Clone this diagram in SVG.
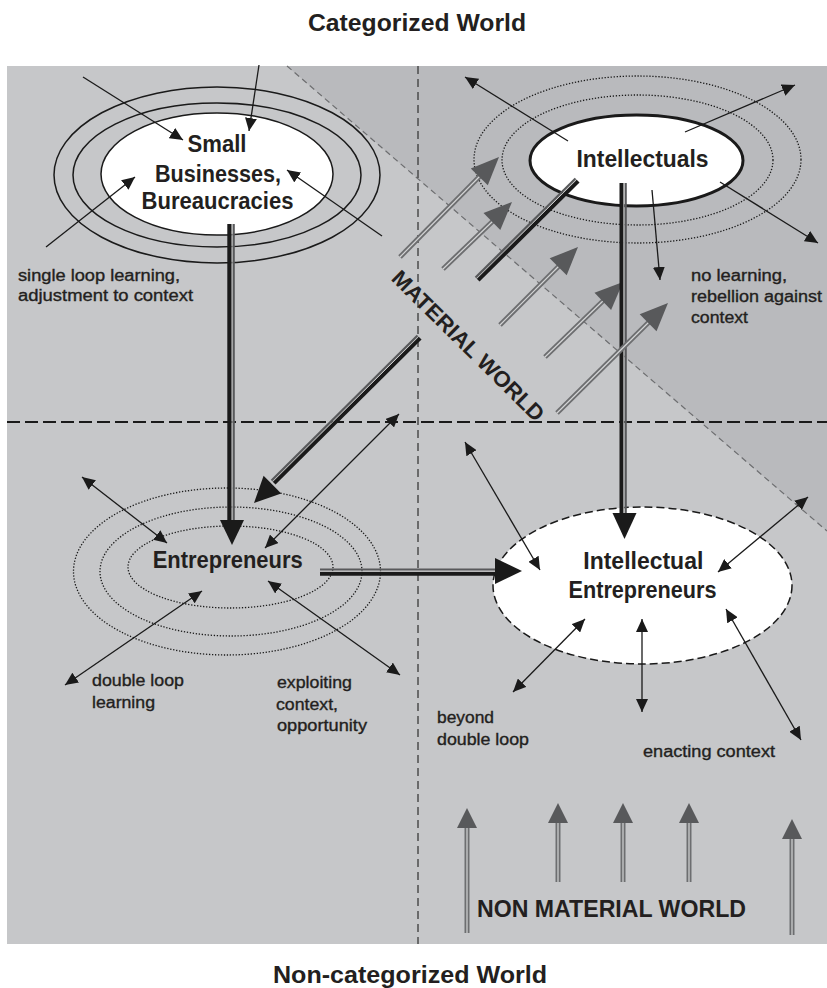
<svg xmlns="http://www.w3.org/2000/svg" width="827" height="988" viewBox="0 0 827 988">
<defs>
<style>
.t{font-family:"Liberation Sans",Arial,sans-serif;fill:#231f20}
.title{font-size:24px;font-weight:bold}
.node{font-size:23px;font-weight:bold}
.lbl{font-size:16px;stroke:#231f20;stroke-width:0.35}
.thin{stroke:#1a1a1a;stroke-width:1.3;fill:none}
.ring{fill:none;stroke:#1a1a1a;stroke-width:1.5}
.dot{fill:none;stroke:#1a1a1a;stroke-width:1.3;stroke-dasharray:1.3 1.7}
.blk{stroke:#1a1a1a;stroke-width:4.4;fill:none}
.gry{stroke:#58595b;stroke-width:2.2;fill:none}
.gap{stroke:#e6e6e6;stroke-width:0.9;fill:none}
.head{fill:#1a1a1a}
.gshaft{stroke:#6d6e70;stroke-width:5;fill:none}
.glight{stroke:#d4d5d6;stroke-width:1.2;fill:none}
.ghead{fill:#58595b}
</style>
<marker id="ah" viewBox="0 0 13 12" refX="13" refY="6" markerWidth="13" markerHeight="12" markerUnits="userSpaceOnUse" orient="auto-start-reverse">
<path d="M0,0 L13,6 L0,12 z" fill="#1a1a1a"/>
</marker>
</defs>

<!-- titles -->
<text class="t title" x="417" y="31" text-anchor="middle" textLength="218" lengthAdjust="spacingAndGlyphs">Categorized World</text>
<text class="t title" x="410" y="983" text-anchor="middle" textLength="274" lengthAdjust="spacingAndGlyphs">Non-categorized World</text>

<!-- background -->
<g id="background">
<rect x="7" y="66" width="820" height="878" fill="#c6c7c9"/>
<polygon points="287,66 827,66 827,531" fill="#b9babd"/>
<line x1="287" y1="66" x2="827" y2="531" stroke="#6d6e70" stroke-width="1.2" stroke-dasharray="6 4"/>
<line x1="418" y1="66" x2="418" y2="944" stroke="#444" stroke-width="1.4" stroke-dasharray="8 5"/>
<line x1="7" y1="422" x2="827" y2="422" stroke="#1a1a1a" stroke-width="2.2" stroke-dasharray="13 5"/>
</g>

<!-- nodes -->
<g id="small-businesses">
<ellipse class="ring" cx="217" cy="175" rx="163" ry="88"/>
<ellipse class="ring" cx="217" cy="175" rx="144" ry="72"/>
<ellipse cx="217" cy="174" rx="116" ry="61" fill="#fff" stroke="#1a1a1a" stroke-width="1.5"/>
<text class="t node" x="217" y="152" text-anchor="middle" textLength="59" lengthAdjust="spacingAndGlyphs">Small</text>
<text class="t node" x="218" y="182" text-anchor="middle" textLength="126" lengthAdjust="spacingAndGlyphs">Businesses,</text>
<text class="t node" x="217.5" y="209" text-anchor="middle" textLength="152" lengthAdjust="spacingAndGlyphs">Bureaucracies</text>
</g>

<g id="intellectuals">
<ellipse class="dot" cx="637.5" cy="159.5" rx="163.5" ry="83.5"/>
<ellipse class="dot" cx="637.5" cy="160" rx="135.5" ry="65"/>
<ellipse cx="636.5" cy="160.5" rx="106.5" ry="45.5" fill="#fff" stroke="#1a1a1a" stroke-width="3"/>
<text class="t node" x="642.5" y="167" text-anchor="middle" textLength="132" lengthAdjust="spacingAndGlyphs">Intellectuals</text>
</g>

<g id="entrepreneurs">
<ellipse class="dot" cx="227" cy="571.5" rx="153.5" ry="83.5"/>
<ellipse class="dot" cx="231" cy="571.5" rx="131" ry="64.5"/>
<ellipse class="dot" cx="230.5" cy="567" rx="102.5" ry="41"/>
<text class="t node" x="227.7" y="568" text-anchor="middle" textLength="150" lengthAdjust="spacingAndGlyphs">Entrepreneurs</text>
</g>

<g id="intellectual-entrepreneurs">
<ellipse cx="642.5" cy="585.5" rx="149.5" ry="78.5" fill="#fff" stroke="#1a1a1a" stroke-width="1.5" stroke-dasharray="8 4"/>
<text class="t node" x="643.3" y="569" text-anchor="middle" textLength="120" lengthAdjust="spacingAndGlyphs">Intellectual</text>
<text class="t node" x="642.5" y="598" text-anchor="middle" textLength="148" lengthAdjust="spacingAndGlyphs">Entrepreneurs</text>
</g>

<!-- labels -->
<g id="labels">
<text class="t lbl" x="18" y="281" textLength="162" lengthAdjust="spacingAndGlyphs">single loop learning,</text>
<text class="t lbl" x="18" y="301" textLength="175" lengthAdjust="spacingAndGlyphs">adjustment to context</text>
<text class="t lbl" x="691" y="281" textLength="96" lengthAdjust="spacingAndGlyphs">no learning,</text>
<text class="t lbl" x="691" y="302" textLength="131" lengthAdjust="spacingAndGlyphs">rebellion against</text>
<text class="t lbl" x="691" y="323" textLength="57" lengthAdjust="spacingAndGlyphs">context</text>
<text class="t lbl" x="92" y="686" textLength="92" lengthAdjust="spacingAndGlyphs">double loop</text>
<text class="t lbl" x="92" y="708" textLength="63" lengthAdjust="spacingAndGlyphs">learning</text>
<text class="t lbl" x="277" y="688" textLength="75" lengthAdjust="spacingAndGlyphs">exploiting</text>
<text class="t lbl" x="276" y="710" textLength="62" lengthAdjust="spacingAndGlyphs">context,</text>
<text class="t lbl" x="277" y="731" textLength="90" lengthAdjust="spacingAndGlyphs">opportunity</text>
<text class="t lbl" x="437" y="723" textLength="57" lengthAdjust="spacingAndGlyphs">beyond</text>
<text class="t lbl" x="437" y="745" textLength="92" lengthAdjust="spacingAndGlyphs">double loop</text>
<text class="t lbl" x="643" y="757" textLength="132" lengthAdjust="spacingAndGlyphs">enacting context</text>
</g>

<!-- connectors -->
<g id="connectors">
<!-- thin arrows: small businesses -->
<line class="thin" x1="83" y1="77" x2="183" y2="140" marker-end="url(#ah)"/>
<line class="thin" x1="259" y1="65" x2="249" y2="131" marker-end="url(#ah)"/>
<line class="thin" x1="46" y1="247" x2="135" y2="177" marker-end="url(#ah)"/>
<line class="thin" x1="382" y1="236" x2="287" y2="170" marker-end="url(#ah)"/>
<!-- intellectuals -->
<line class="thin" x1="568" y1="141" x2="465" y2="77" marker-end="url(#ah)"/>
<line class="thin" x1="685" y1="132" x2="795" y2="85" marker-end="url(#ah)"/>
<line class="thin" x1="720" y1="182" x2="818" y2="243" marker-end="url(#ah)"/>
<line class="thin" x1="652" y1="190" x2="660" y2="280" marker-end="url(#ah)"/>
<!-- entrepreneurs -->
<line class="thin" x1="82" y1="477" x2="167" y2="543" marker-start="url(#ah)" marker-end="url(#ah)"/>
<line class="thin" x1="65" y1="685" x2="202" y2="591" marker-start="url(#ah)" marker-end="url(#ah)"/>
<line class="thin" x1="268" y1="581" x2="400" y2="675" marker-start="url(#ah)" marker-end="url(#ah)"/>
<line class="thin" x1="265" y1="548" x2="399" y2="414" marker-start="url(#ah)" marker-end="url(#ah)"/>
<!-- intellectual entrepreneurs -->
<line class="thin" x1="465" y1="442" x2="540" y2="570" marker-start="url(#ah)" marker-end="url(#ah)"/>
<line class="thin" x1="808" y1="497" x2="718" y2="572" marker-start="url(#ah)" marker-end="url(#ah)"/>
<line class="thin" x1="513" y1="692" x2="585" y2="619" marker-start="url(#ah)" marker-end="url(#ah)"/>
<line class="thin" x1="642" y1="619" x2="642" y2="712" marker-start="url(#ah)" marker-end="url(#ah)"/>
<line class="thin" x1="726" y1="609" x2="801" y2="740" marker-start="url(#ah)" marker-end="url(#ah)"/>

<!-- material world gray arrows -->
<g id="material-arrows">
<line class="gshaft" x1="400" y1="257" x2="481" y2="175"/>
<line class="glight" x1="400" y1="257" x2="481" y2="175"/>
<polygon class="ghead" points="499,157 487.8,185.3 470.8,168.5"/>
<line class="gshaft" x1="443" y1="269" x2="494" y2="220"/>
<line class="glight" x1="443" y1="269" x2="494" y2="220"/>
<polygon class="ghead" points="512,202 500.3,230.1 483.5,212.9"/>
<line class="gshaft" x1="500" y1="325" x2="560" y2="265"/>
<line class="glight" x1="500" y1="325" x2="560" y2="265"/>
<polygon class="ghead" points="578,247 566.7,275.3 549.7,258.3"/>
<line class="gshaft" x1="545" y1="357" x2="605" y2="299"/>
<line class="glight" x1="545" y1="357" x2="605" y2="299"/>
<polygon class="ghead" points="623,282 611.1,310.1 594.5,292.7"/>
</g>

<!-- Small Businesses -> Entrepreneurs -->
<g id="edge-sb-ent">
<line class="blk" x1="229.5" y1="224" x2="229.5" y2="522"/>
<line class="gap" x1="232.2" y1="224" x2="232.2" y2="522"/>
<line class="gry" x1="233.7" y1="224" x2="233.7" y2="522"/>
<polygon class="head" points="220,520 244,520 232,545"/>
</g>

<!-- Intellectuals -> Intellectual Entrepreneurs -->
<g id="edge-int-ie">
<line class="blk" x1="621.7" y1="183" x2="621.7" y2="515"/>
<line class="gap" x1="623.9" y1="183" x2="623.9" y2="515"/>
<line class="gry" x1="625.7" y1="183" x2="625.7" y2="515"/>
<polygon class="head" points="612.5,513 636.5,513 624.5,539"/>
</g>

<!-- Entrepreneurs -> Intellectual Entrepreneurs -->
<g id="edge-ent-ie">
<line class="blk" x1="320" y1="573.6" x2="497" y2="573.6"/>
<line class="gap" x1="320" y1="571.2" x2="497" y2="571.2"/>
<line class="gry" x1="320" y1="569.5" x2="497" y2="569.5"/>
<polygon class="head" points="495,558 495,584 522,571"/>
</g>

<!-- Intellectuals -> Entrepreneurs (interrupted by label) -->
<g id="edge-int-ent">
<line class="blk" x1="578" y1="181" x2="478" y2="280"/>
<line class="gap" x1="576.6" y1="179.6" x2="476.6" y2="278.6"/>
<line class="gry" x1="575.5" y1="178.5" x2="475.5" y2="277.5"/>
<line class="blk" x1="420" y1="338" x2="274" y2="483"/>
<line class="gap" x1="418.6" y1="336.6" x2="272.6" y2="481.6"/>
<line class="gry" x1="417.5" y1="335.5" x2="271.5" y2="480.5"/>
<polygon class="head" points="254,503 263.6,475.8 281.2,493.6"/>
</g>

<g id="material-arrow-5">
<line class="gshaft" x1="557" y1="413" x2="650" y2="321"/>
<line class="glight" x1="557" y1="413" x2="650" y2="321"/>
<polygon class="ghead" points="668,303 656.5,331.2 639.7,314.2"/>
</g>

<!-- non material world arrows -->
<g id="nonmaterial-arrows">
<line class="gshaft" x1="467" y1="933" x2="467" y2="828" stroke-width="4.5"/>
<line class="glight" x1="467" y1="933" x2="467" y2="828" stroke-width="1.5"/>
<polygon class="ghead" points="467,808 457,828 477,828"/>
<line class="gshaft" x1="558" y1="882" x2="558" y2="823" stroke-width="4.5"/>
<line class="glight" x1="558" y1="882" x2="558" y2="823" stroke-width="1.5"/>
<polygon class="ghead" points="558,803 548,823 568,823"/>
<line class="gshaft" x1="623" y1="882" x2="623" y2="823" stroke-width="4.5"/>
<line class="glight" x1="623" y1="882" x2="623" y2="823" stroke-width="1.5"/>
<polygon class="ghead" points="623,803 613,823 633,823"/>
<line class="gshaft" x1="689" y1="882" x2="689" y2="823" stroke-width="4.5"/>
<line class="glight" x1="689" y1="882" x2="689" y2="823" stroke-width="1.5"/>
<polygon class="ghead" points="689,803 679,823 699,823"/>
<line class="gshaft" x1="792" y1="935" x2="792" y2="839" stroke-width="4.5"/>
<line class="glight" x1="792" y1="935" x2="792" y2="839" stroke-width="1.5"/>
<polygon class="ghead" points="792,819 782,839 802,839"/>
</g>
</g>

<!-- world labels -->
<text class="t node" transform="translate(468.5,345.5) rotate(44.6)" x="0" y="8" text-anchor="middle" textLength="204" lengthAdjust="spacingAndGlyphs" style="font-size:22px">MATERIAL WORLD</text>
<text class="t node" x="477" y="917" textLength="269" lengthAdjust="spacingAndGlyphs" style="font-size:24px">NON MATERIAL WORLD</text>
</svg>
